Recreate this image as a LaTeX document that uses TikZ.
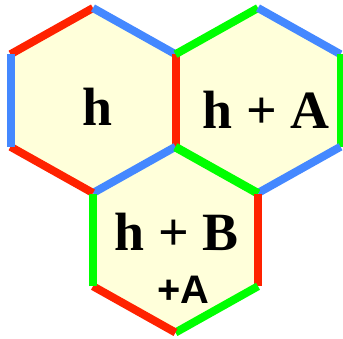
\documentclass[tikz,border=0pt]{standalone}
\usepackage{fontspec}
\setmainfont{Liberation Serif}
\setsansfont{Liberation Sans}
\usepackage{tikz}
\definecolor{hexred}{RGB}{255,34,0}
\definecolor{hexblue}{RGB}{68,136,255}
\definecolor{hexgreen}{RGB}{0,255,0}
\definecolor{hexfill}{RGB}{255,255,218}
\begin{document}
\begin{tikzpicture}[
        x=0.03cm, y=-0.03cm,
        cell/.style={fill=hexfill},
        rededge/.style={draw=hexred, line width=8*0.03cm},
        blueedge/.style={draw=hexblue, line width=8*0.03cm},
        greenedge/.style={draw=hexgreen, line width=8*0.03cm},
        bigtag/.style={anchor=base, inner sep=0pt, font=\fontsize{46}{46}\selectfont\bfseries},
        smalltag/.style={anchor=base, inner sep=0pt, font=\fontsize{34}{34}\selectfont\sffamily\bfseries}
    ]
        \useasboundingbox (0,0) rectangle (343,338);

        % hexagon corners
        \foreach \n/\cx/\cy in {h/93/100.5, ha/258/100.5, hb/175.5/240}{
            \coordinate (\n-t)  at (\cx,\cy-92.5);
            \coordinate (\n-ur) at (\cx+82.5,\cy-46.25);
            \coordinate (\n-lr) at (\cx+82.5,\cy+46.25);
            \coordinate (\n-b)  at (\cx,\cy+92.5);
            \coordinate (\n-ll) at (\cx-82.5,\cy+46.25);
            \coordinate (\n-ul) at (\cx-82.5,\cy-46.25);
            \fill[cell] (\n-t) -- (\n-ur) -- (\n-lr) -- (\n-b) -- (\n-ll) -- (\n-ul) -- cycle;
        }

        % h
        \draw[rededge] (h-ul) -- (h-t);
        \draw[blueedge] (h-t) -- (h-ur);
        \draw[rededge] (h-ur) -- (h-lr);
        \draw[blueedge] (h-lr) -- (h-b);
        \draw[rededge] (h-b) -- (h-ll);
        \draw[blueedge] (h-ll) -- (h-ul);

        % h + A
        \draw[greenedge] (ha-ul) -- (ha-t);
        \draw[blueedge] (ha-t) -- (ha-ur);
        \draw[greenedge] (ha-ur) -- (ha-lr);
        \draw[blueedge] (ha-lr) -- (ha-b);
        \draw[greenedge] (ha-b) -- (ha-ll);

        % h + B +A
        \draw[greenedge] (hb-t) -- (hb-ur);
        \draw[rededge] (hb-ur) -- (hb-lr);
        \draw[greenedge] (hb-lr) -- (hb-b);
        \draw[rededge] (hb-b) -- (hb-ll);
        \draw[greenedge] (hb-ll) -- (hb-ul);

        \node[bigtag] (tagh) at (97.3,125.5) {h};
        \node[bigtag] (tagha) at (266,128) {h + A};
        \node[bigtag] (taghb) at (176.5,250.5) {h + B};
        \node[smalltag] (tagplus) at (183.4,303) {+A};
    \end{tikzpicture}
\end{document}
